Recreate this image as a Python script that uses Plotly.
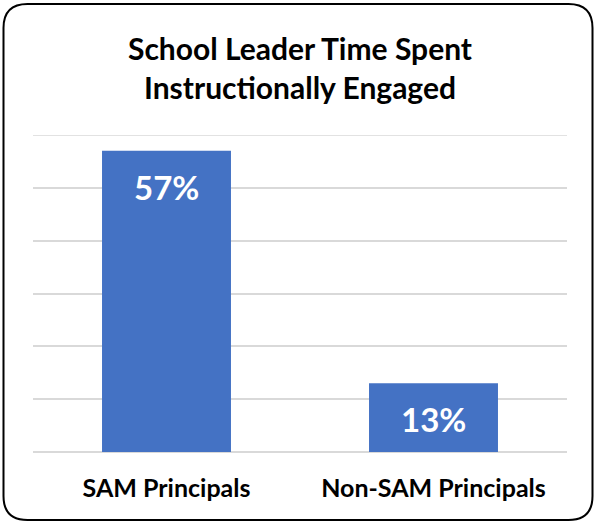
import plotly.graph_objects as go

categories = ["SAM Principals", "Non-SAM Principals"]
values = [57, 13]
value_labels = ["57%", "13%"]
title_lines = ["School Leader Time Spent", "Instructionally Engaged"]
y_max = 60
y_step = 10

W, H = 595, 523
ML, MR, MT, MB = 33, 28, 135, 71
PW, PH = W - ML - MR, H - MT - MB

FONT = "Lato"
BAR = "#4472C4"
GRID = "#D9D9D9"

fig = go.Figure()
fig.add_trace(go.Bar(
    x=categories, y=values, marker=dict(color=BAR, line=dict(width=0)),
    hoverinfo="skip",
))

for c, v, t in zip(categories, values, value_labels):
    fig.add_annotation(x=c, y=v, xref="x", yref="y", text=t,
                       showarrow=False, yanchor="middle", yshift=-36,
                       font=dict(family=FONT, size=33, color="white", weight="bold"))

# top gridline at the range edge
fig.add_shape(type="line", xref="paper", yref="y", x0=0, x1=1, y0=y_max, y1=y_max,
              line=dict(color=GRID, width=1.5), layer="below")

# rounded border (pixel -> paper conversion)
def px(x):
    return (x - ML) / PW
def py(y):
    return (H - MB - y) / PH

x0, x1, y0, y1, r = 3.5, 592.5, 4, 520, 24
path = (f"M {px(x0+r)},{py(y0)} L {px(x1-r)},{py(y0)} "
        f"Q {px(x1)},{py(y0)} {px(x1)},{py(y0+r)} "
        f"L {px(x1)},{py(y1-r)} Q {px(x1)},{py(y1)} {px(x1-r)},{py(y1)} "
        f"L {px(x0+r)},{py(y1)} Q {px(x0)},{py(y1)} {px(x0)},{py(y1-r)} "
        f"L {px(x0)},{py(y0+r)} Q {px(x0)},{py(y0)} {px(x0+r)},{py(y0)} Z")
fig.add_shape(type="path", path=path, xref="paper", yref="paper",
              line=dict(color="black", width=2), layer="above")

fig.update_layout(
    width=W, height=H,
    margin=dict(l=ML, r=MR, t=MT, b=MB, autoexpand=False),
    paper_bgcolor="white", plot_bgcolor="white",
    bargap=0.517,
    showlegend=False,
    title=dict(text="<br>".join(title_lines),
               x=0.5, xref="paper", xanchor="center",
               y=1 - 60 / H, yref="container", yanchor="middle",
               font=dict(family=FONT, size=30, color="black", weight="bold")),
    xaxis=dict(showline=False, ticks="", ticklabelstandoff=19,
               tickfont=dict(family=FONT, size=25, color="black", weight="bold"),
               fixedrange=True),
    yaxis=dict(range=[0, y_max], dtick=y_step, showticklabels=False,
               showgrid=True, gridcolor=GRID, gridwidth=1.5,
               zeroline=True, zerolinecolor=GRID, zerolinewidth=1.5,
               fixedrange=True),
)

fig.write_html("out.html", config={"displayModeBar": False},
               post_script="document.body.style.margin='0';document.body.style.overflow='hidden';")
